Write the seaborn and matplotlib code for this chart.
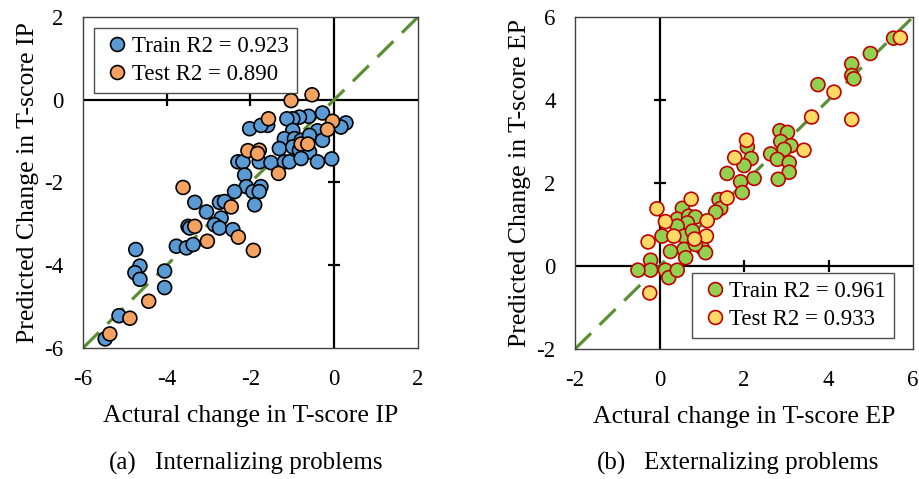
import numpy as np
import pandas as pd
import seaborn as sns
import matplotlib
matplotlib.use("Agg")
import matplotlib.pyplot as plt

# ---------------- data ----------------
ip_train_actual = [-0.28, -0.61, -0.83, -0.99, -1.13, 0.28, 0.16, -2.02, -1.59, -1.75,
                   -0.40, -0.99, -1.19, -0.95, -0.79, -0.59, -0.28, -1.31, -0.99, -0.83,
                   -0.59, -2.30, -2.18, -1.79, -1.51, -1.19, -1.07, -0.79, -0.40, -0.06,
                   -2.14, -2.10, -1.94, -1.75, -1.79, -2.38, -1.90, -2.74, -2.62, -3.33,
                   -3.05, -2.70, -2.86, -2.74, -3.49, -3.45, -2.42, -3.77, -3.53, -3.37,
                   -4.74, -4.64, -4.76, -4.64, -4.05, -4.05, -5.14, -5.47]
ip_train_pred = [-0.32, -0.40, -0.42, -0.46, -0.46, -0.56, -0.66, -0.70, -0.62, -0.62,
                 -0.75, -0.74, -0.94, -0.94, -0.98, -0.86, -0.98, -1.18, -1.14, -1.22,
                 -1.26, -1.50, -1.50, -1.50, -1.52, -1.50, -1.50, -1.42, -1.50, -1.43,
                 -1.82, -2.10, -2.22, -2.10, -2.22, -2.22, -2.54, -2.48, -2.46, -2.48,
                 -2.71, -2.86, -3.02, -3.10, -3.06, -3.10, -3.14, -3.54, -3.58, -3.50,
                 -3.62, -4.02, -4.18, -4.34, -4.14, -4.54, -5.22, -5.78]
ip_test_actual = [-0.53, -1.03, -1.57, -0.04, -0.16, -2.06, -1.79, -1.83, -0.79, -0.63,
                  -1.33, -3.61, -2.46, -3.33, -3.03, -2.29, -1.93, -4.43, -4.88, -5.36]
ip_test_pred = [0.12, -0.02, -0.46, -0.52, -0.72, -1.23, -1.22, -1.30, -1.07, -1.07,
                -1.78, -2.12, -2.59, -3.06, -3.42, -3.32, -3.64, -4.87, -5.28, -5.66]

ep_train_actual = [5.54, 4.99, 4.55, 4.55, 4.60, 3.75, 2.85, 3.03, 2.87, 3.11, 2.95,
                   2.63, 2.79, 3.07, 3.07, 2.81, 2.08, 2.17, 2.00, 1.60, 1.92, 2.24,
                   1.96, 1.41, 1.45, 1.33, 0.54, 0.42, 0.69, 0.85, 0.66, 0.42, 0.06,
                   0.58, 0.78, 0.98, 1.01, 1.09, 0.58, 0.62, 0.26, -0.21, -0.21, -0.51,
                   0.14, 0.22, 0.42, 0.85]
ep_train_pred = [5.49, 5.12, 4.87, 4.59, 4.51, 4.37, 3.26, 3.22, 3.00, 2.90, 2.81,
                 2.70, 2.57, 2.49, 2.26, 2.09, 2.87, 2.59, 2.42, 2.23, 2.03, 2.11,
                 1.77, 1.60, 1.39, 1.30, 1.39, 1.13, 1.20, 1.18, 1.04, 0.96, 0.72,
                 0.72, 0.84, 0.64, 0.44, 0.32, 0.40, 0.20, 0.35, 0.14, -0.10, -0.10,
                 -0.10, -0.28, -0.10, 0.52]
ep_test_actual = [5.70, 4.13, 3.60, 4.55, 3.42, 2.06, 1.78, 1.60, 0.75, -0.06, 0.14,
                  1.13, 1.11, 0.34, 0.83, -0.27, -0.23]
ep_test_pred = [5.50, 4.19, 3.59, 3.53, 2.79, 3.03, 2.61, 1.64, 1.61, 1.38, 1.07,
                1.09, 0.72, 0.72, 0.65, 0.58, -0.65]

ip_labels = ["Train R2 = 0.923", "Test R2 = 0.890"]
ep_labels = ["Train R2 = 0.961", "Test R2 = 0.933"]
ip_ticks = [-6, -4, -2, 0, 2]
ep_ticks = [-2, 0, 2, 4, 6]
caption_tags = ["(a)", "(b)"]
caption_texts = ["Internalizing problems", "Externalizing problems"]
xlabels = ["Actural change in T-score IP", "Actural change in T-score EP"]
ylabels = ["Predicted Change in T-score IP", "Predicted Change in T-score EP"]

# ---------------- styling ----------------
sns.set_theme(style="white")
plt.rcParams["font.family"] = ["Liberation Serif", "DejaVu Serif"]
plt.rcParams["text.color"] = "black"
plt.rcParams["axes.labelcolor"] = "black"
plt.rcParams["xtick.color"] = "black"
plt.rcParams["ytick.color"] = "black"

fig = plt.figure(figsize=(9.2, 4.79), dpi=100)
ax1 = fig.add_axes([0.0902, 0.2735, 0.3641, 0.691])
ax2 = fig.add_axes([0.6250, 0.2714, 0.3674, 0.6931])


def make_df(ta, tp, sa, sp, labels):
    return pd.DataFrame({
        "actual": list(ta) + list(sa),
        "pred": list(tp) + list(sp),
        "set": [labels[0]] * len(ta) + [labels[1]] * len(sa),
    })


def draw(ax, df, labels, ticks, colors, edge, legend_loc, anchor, xl, yl,
         cross_x, cross_y):
    lo, hi = ticks[0], ticks[-1]
    ax.set_xlim(lo, hi)
    ax.set_ylim(lo, hi)
    # zero lines
    ax.axhline(0, color="black", lw=1.6, zorder=1)
    ax.axvline(0, color="black", lw=1.6, zorder=1)
    # cross ticks on zero lines
    ax.plot(cross_x, [0] * len(cross_x), ls="none", marker="|", ms=9,
            mew=1.6, color="black", zorder=1, clip_on=False)
    ax.plot([0] * len(cross_y), cross_y, ls="none", marker="_", ms=9,
            mew=1.6, color="black", zorder=1, clip_on=False)
    # diagonal reference line
    ax.plot([lo, hi], [lo, hi], color="#5B8F33", lw=2.3, dashes=(7.0, 3.8),
            zorder=2)
    sns.scatterplot(data=df, x="actual", y="pred", hue="set", hue_order=labels,
                    palette=colors, s=100, edgecolor=edge, linewidth=1.2,
                    ax=ax, zorder=3, legend=True)
    ax.set_xticks(ticks)
    ax.set_yticks(ticks)
    ax.set_xticklabels([str(t) for t in ticks])
    ax.set_yticklabels([str(t) for t in ticks])
    ax.tick_params(axis="both", length=0, labelsize=16.5, colors="black")
    ax.tick_params(axis="x", pad=15)
    ax.tick_params(axis="y", pad=14)
    for sp in ax.spines.values():
        sp.set_color("#404040")
        sp.set_linewidth(1.0)
    ax.set_xlabel(xl, fontsize=18.5, labelpad=11, color="black")
    ax.set_ylabel(yl, fontsize=18.5, labelpad=4, color="black")
    leg = ax.legend(loc=legend_loc, bbox_to_anchor=anchor, fontsize=16.5,
                    frameon=True, fancybox=False, handletextpad=0.0,
                    borderpad=0.35, labelspacing=0.3, handlelength=1.3,
                    borderaxespad=0.0, markerscale=1.0)
    leg.get_frame().set_edgecolor("#202020")
    leg.get_frame().set_linewidth(1.0)
    leg.set_zorder(5)


df1 = make_df(ip_train_actual, ip_train_pred, ip_test_actual, ip_test_pred, ip_labels)
df2 = make_df(ep_train_actual, ep_train_pred, ep_test_actual, ep_test_pred, ep_labels)

draw(ax1, df1, ip_labels, ip_ticks, ["#5B9BD5", "#F4A261"], "black", "upper left",
     (0.033, 0.967), xlabels[0], ylabels[0], [-4, -2], [-2, -4])
draw(ax2, df2, ep_labels, ep_ticks, ["#92D050", "#FFD966"], "#C00000", "lower right",
     (0.944, 0.033), xlabels[1], ylabels[1], [2, 4], [2, 4])

for tag, txt, x_tag, x_txt in zip(caption_tags, caption_texts,
                                  [109 / 920, 597 / 920], [155 / 920, 644 / 920]):
    fig.text(x_tag, 1 - 463 / 479, tag, ha="left", va="center", fontsize=18)
    fig.text(x_txt, 1 - 463 / 479, txt, ha="left", va="center", fontsize=18)

fig.savefig("out.png", dpi=100)
